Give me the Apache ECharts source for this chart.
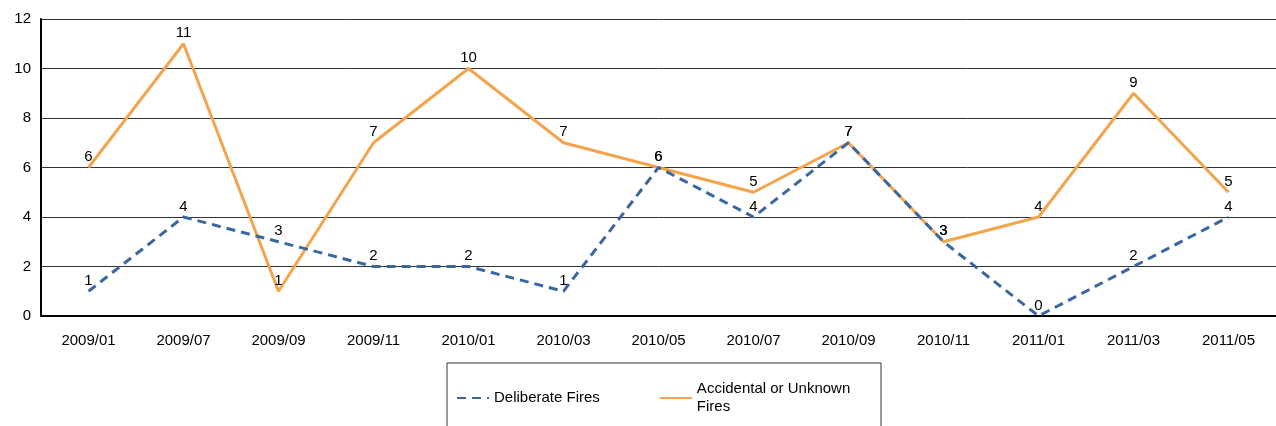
<!DOCTYPE html>
<html>
<head>
<meta charset="utf-8">
<script src="https://cdn.jsdelivr.net/npm/echarts@6/dist/echarts.min.js"></script>
<style>
  html, body { margin: 0; padding: 0; background: #fff; }
  #chart { width: 1276px; height: 426px; }
</style>
</head>
<body>
<div id="chart"></div>
<script>
// months on the x axis
var months = ['2009/01', '2009/07', '2009/09', '2009/11', '2010/01', '2010/03', '2010/05',
              '2010/07', '2010/09', '2010/11', '2011/01', '2011/03', '2011/05'];
var deliberate = [1, 4, 3, 2, 2, 1, 6, 4, 7, 3, 0, 2, 4];
var accidental = [6, 11, 1, 7, 10, 7, 6, 5, 7, 3, 4, 9, 5];
var seriesNames = ['Deliberate Fires', 'Accidental or Unknown\nFires'];

var font = 'Liberation Sans, Arial, sans-serif';
var myChart = echarts.init(document.getElementById('chart'));

myChart.setOption({
    animation: false,
    textStyle: { fontFamily: font },
    grid: {
        left: 41,
        top: 19,
        width: 1246,
        height: 297
    },
    legend: {
        left: 456,
        top: 380,
        padding: 0,
        itemWidth: 32,
        itemHeight: 14,
        itemGap: 59,
        itemStyle: { opacity: 0 },
        textStyle: { fontSize: 15, color: '#000', fontFamily: font, lineHeight: 18 },
        data: seriesNames
    },
    graphic: [{
        type: 'rect',
        shape: { x: 447, y: 363, width: 434, height: 80 },
        style: { fill: 'none', stroke: '#333', lineWidth: 1 },
        silent: true
    }],
    xAxis: {
        type: 'category',
        data: months,
        boundaryGap: true,
        axisLine: { lineStyle: { color: '#000', width: 2 } },
        axisTick: { show: false },
        axisLabel: { color: '#000', fontSize: 15, margin: 17, interval: 0 }
    },
    yAxis: {
        type: 'value',
        min: 0,
        max: 12,
        interval: 2,
        axisLine: { show: true, lineStyle: { color: '#000', width: 2 } },
        axisTick: { show: false },
        axisLabel: { color: '#000', fontSize: 15, margin: 10 },
        splitLine: { lineStyle: { color: '#333', width: 1 } }
    },
    series: [
        {
            name: seriesNames[0],
            type: 'line',
            data: deliberate,
            symbol: 'circle',
            symbolSize: 2,
            lineStyle: { color: '#3a67a0', width: 3, type: [9, 6] },
            itemStyle: { color: 'rgba(0,0,0,0)' },
            label: { show: true, position: 'top', distance: 2, color: '#000', fontSize: 15 },
            z: 3
        },
        {
            name: seriesNames[1],
            type: 'line',
            data: accidental,
            symbol: 'circle',
            symbolSize: 2,
            lineStyle: { color: '#f4a44c', width: 3 },
            itemStyle: { color: 'rgba(0,0,0,0)' },
            label: { show: true, position: 'top', distance: 2, color: '#000', fontSize: 15 },
            z: 2
        }
    ]
});
</script>
</body>
</html>
